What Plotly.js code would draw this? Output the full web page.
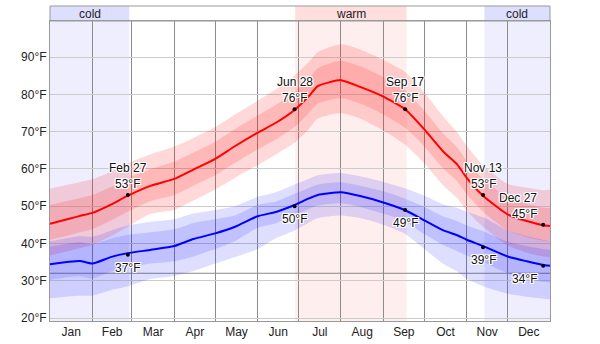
<!DOCTYPE html>
<html>
<head>
<meta charset="utf-8">
<script src="https://cdn.plot.ly/plotly-3.0.1.min.js"></script>
<style>
  html, body { margin: 0; padding: 0; background: #ffffff; }
  #chart { width: 600px; height: 344px; }
</style>
</head>
<body>
<div id="chart"></div>
<script>
// ---- data ----
const dates = ['2012-01-01','2012-01-15','2012-01-23','2012-02-01','2012-02-15','2012-02-27','2012-03-15','2012-04-01','2012-04-15','2012-05-01','2012-05-15','2012-06-01','2012-06-15','2012-06-28','2012-07-08','2012-07-15','2012-08-01','2012-08-15','2012-09-01','2012-09-17','2012-10-01','2012-10-15','2012-10-25','2012-11-01','2012-11-13','2012-12-01','2012-12-15','2012-12-27','2013-01-01'];

const highAvg = [45.3, 46.6, 47.4, 48.2, 50.5, 52.8, 55.5, 57.3, 59.8, 62.7, 66.0, 69.7, 72.5, 75.8, 79.3, 82.2, 83.8, 82.0, 79.4, 76.0, 70.6, 64.6, 61.2, 57.6, 52.8, 47.8, 46.0, 44.9, 44.7];
const highP90 = [54.7, 55.8, 56.5, 57.2, 59.3, 61.5, 64.0, 66.0, 68.3, 71.2, 74.5, 78.3, 81.5, 85.0, 88.5, 91.3, 93.4, 92.0, 89.2, 86.0, 80.5, 74.0, 69.8, 66.2, 61.0, 56.0, 55.0, 54.3, 54.5];
const highP75 = [50.3, 51.5, 52.2, 53.0, 55.2, 57.5, 60.0, 62.0, 64.4, 67.3, 70.6, 74.3, 77.3, 80.6, 84.0, 87.0, 89.0, 87.5, 84.6, 81.0, 75.6, 69.4, 65.8, 62.2, 57.3, 52.3, 50.6, 49.6, 49.5];
const highP25 = [41.0, 42.2, 43.0, 43.8, 46.2, 48.5, 51.4, 53.0, 55.5, 58.3, 61.5, 65.2, 68.0, 71.2, 74.8, 77.5, 79.0, 77.5, 74.6, 71.0, 66.0, 60.0, 56.7, 53.2, 48.5, 43.5, 41.7, 40.7, 40.6];
const highP10 = [36.8, 38.0, 38.8, 39.6, 42.0, 44.5, 48.0, 49.0, 51.5, 54.5, 57.5, 61.0, 64.0, 67.0, 70.5, 73.5, 75.0, 73.5, 70.3, 66.5, 61.5, 55.5, 52.2, 48.8, 44.5, 39.5, 37.5, 36.5, 36.3];

const lowAvg = [34.4, 35.1, 35.3, 34.6, 36.4, 37.4, 38.3, 39.3, 41.2, 42.7, 44.4, 47.3, 48.5, 50.3, 52.0, 53.0, 53.7, 52.7, 51.0, 48.9, 46.2, 43.5, 42.2, 41.0, 39.3, 36.5, 35.2, 34.2, 34.0];
const lowP90 = [40.5, 41.5, 42.0, 41.8, 43.5, 44.8, 45.8, 46.5, 48.0, 49.0, 50.0, 52.5, 53.8, 55.8, 57.3, 58.3, 58.9, 58.0, 56.5, 54.8, 52.8, 50.5, 49.5, 48.5, 47.0, 43.5, 42.0, 41.0, 40.6];
const lowP75 = [39.2, 40.0, 40.3, 39.8, 41.3, 42.3, 43.0, 43.8, 45.5, 46.5, 47.5, 50.3, 51.3, 53.3, 54.8, 55.8, 56.4, 55.5, 54.0, 52.0, 49.8, 47.2, 46.0, 44.8, 43.3, 40.5, 39.3, 38.5, 38.3];
const lowP25 = [30.2, 31.0, 31.2, 30.6, 32.5, 33.5, 34.6, 35.2, 36.5, 38.5, 40.5, 44.2, 45.5, 47.5, 49.2, 50.2, 50.8, 49.8, 48.0, 45.9, 42.5, 39.5, 38.0, 36.8, 35.0, 32.0, 30.6, 29.7, 29.5];
const lowP10 = [25.3, 25.8, 26.0, 26.0, 27.5, 28.5, 30.5, 31.3, 32.6, 34.6, 36.3, 38.5, 41.5, 43.5, 45.5, 46.8, 47.5, 46.8, 45.0, 42.5, 38.5, 34.5, 32.5, 30.5, 28.5, 26.5, 25.7, 25.2, 25.0];

// highlighted points
const markDates  = ['2012-02-27','2012-06-28','2012-09-17','2012-11-13','2012-12-27'];
const markLabels = ['Feb 27','Jun 28','Sep 17','Nov 13','Dec 27'];
const markHigh   = [53, 76, 76, 53, 45];
const markLow    = [37, 50, 49, 39, 34];

// seasons
const seasonNames = ['cold', 'warm', 'cold'];
const seasonStart = ['2012-01-01', '2012-06-28 12:00', '2012-11-14'];
const seasonEnd   = ['2012-02-28', '2012-09-18', '2013-01-01'];

const freezing = 32;
const monthRange = ['2012-01-01', '2013-01-01'];

// ---- drawing ----
const FONT = 'Liberation Sans, Arial, sans-serif';
const halo = '-1px -1px 0 #fff, 1px -1px 0 #fff, -1px 1px 0 #fff, 1px 1px 0 #fff, 0 1px 0 #fff, 0 -1px 0 #fff, 1px 0 0 #fff, -1px 0 0 #fff';

function band(lo, hi, color) {
  return [
    {x: dates, y: lo, type: 'scatter', mode: 'lines', line: {width: 0, shape: 'spline', smoothing: 0.6}, hoverinfo: 'skip', showlegend: false},
    {x: dates, y: hi, type: 'scatter', mode: 'lines', fill: 'tonexty', fillcolor: color, line: {width: 0, shape: 'spline', smoothing: 0.6}, hoverinfo: 'skip', showlegend: false}
  ];
}

const redBand = 'rgba(255,0,0,0.15)';
const blueBand = 'rgba(0,0,255,0.13)';

const traces = [].concat(
  band(highP10, highP90, redBand),
  band(highP25, highP75, redBand),
  band(lowP10, lowP90, blueBand),
  band(lowP25, lowP75, blueBand),
  [
    {x: dates, y: highAvg, type: 'scatter', mode: 'lines', line: {color: '#ff0000', width: 2, shape: 'spline', smoothing: 0.5}, showlegend: false},
    {x: dates, y: lowAvg, type: 'scatter', mode: 'lines', line: {color: '#0000ff', width: 2, shape: 'spline', smoothing: 0.5}, showlegend: false},
    {x: markDates, y: markHigh, type: 'scatter', mode: 'markers', marker: {color: '#000', size: 4}, showlegend: false},
    {x: markDates, y: markLow, type: 'scatter', mode: 'markers', marker: {color: '#000', size: 4}, showlegend: false}
  ]
);

const shapes = [];
const annotations = [];
seasonNames.forEach((name, i) => {
  const cold = name === 'cold';
  shapes.push({type: 'rect', xref: 'x', yref: 'paper', x0: seasonStart[i], x1: seasonEnd[i], y0: 0, y1: 1,
    fillcolor: cold ? '#eeeeff' : '#ffeeee', line: {width: 0}, layer: 'below'});
  shapes.push({type: 'rect', xref: 'x', yref: 'paper', x0: seasonStart[i], x1: seasonEnd[i], y0: 1, y1: 1.05,
    fillcolor: cold ? '#dedeff' : '#ffdede', line: {width: 0}, layer: 'below'});
  const mid = new Date((new Date(seasonStart[i].replace(' ', 'T') + 'Z').getTime() + new Date(seasonEnd[i] + 'T00:00Z').getTime()) / 2);
  annotations.push({x: mid.toISOString().slice(0, 19).replace('T', ' '), xref: 'x', yref: 'paper', y: 1.025, yanchor: 'middle', xanchor: 'center',
    text: name, showarrow: false, font: {family: FONT, size: 12, color: '#222'}});
});
shapes.push({type: 'rect', xref: 'paper', yref: 'paper', x0: 0, x1: 1, y0: 1, y1: 1.05, line: {color: '#999', width: 1}, fillcolor: 'rgba(0,0,0,0)', layer: 'above'});
shapes.push({type: 'line', xref: 'paper', yref: 'y', x0: 0, x1: 1, y0: freezing, y1: freezing, line: {color: '#8a8a8a', width: 1}, layer: 'between'});

markDates.forEach((d, i) => {
  const last = i === markDates.length - 1;
  const base = {x: d, xref: 'x', yref: 'y', showarrow: false, font: {family: FONT, size: 12, color: '#111', shadow: halo},
    xanchor: last ? 'right' : 'center', xshift: last ? -4 : 0, yanchor: 'middle'};
  annotations.push(Object.assign({}, base, {y: markHigh[i], text: markLabels[i], yshift: 27}));
  annotations.push(Object.assign({}, base, {y: markHigh[i], text: markHigh[i] + '°F', yshift: 11}));
  annotations.push(Object.assign({}, base, {y: markLow[i], text: markLow[i] + '°F', yshift: -13}));
});

const layout = {
  width: 600, height: 344,
  margin: {l: 50, r: 50, t: 21, b: 23, pad: 0},
  paper_bgcolor: '#ffffff', plot_bgcolor: '#ffffff',
  font: {family: FONT, size: 12, color: '#222'},
  showlegend: false,
  xaxis: {
    type: 'date', range: monthRange, dtick: 'M1', tick0: '2012-01-01', tickformat: '%b', ticklabelmode: 'period',
    showgrid: true, gridcolor: '#8c8c8c', gridwidth: 1, ticks: '', zeroline: false,
    showline: true, linecolor: '#999', mirror: true,
    tickfont: {family: FONT, size: 12, color: '#222'}, fixedrange: true
  },
  yaxis: {
    range: [19.2, 99.66], dtick: 10, tick0: 0, ticksuffix: '°F',
    showgrid: true, gridcolor: '#cccccc', gridwidth: 1, ticks: '', zeroline: false,
    showline: true, linecolor: '#999', mirror: true,
    tickfont: {family: FONT, size: 12, color: '#222'}, fixedrange: true
  },
  shapes: shapes,
  annotations: annotations
};

Plotly.newPlot('chart', traces, layout, {staticPlot: true, displayModeBar: false});
</script>
</body>
</html>
